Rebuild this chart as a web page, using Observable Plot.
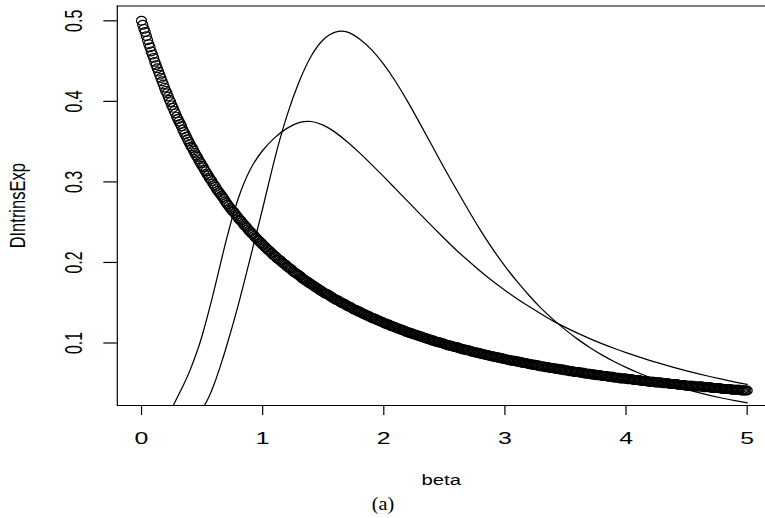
<!DOCTYPE html>
<html><head><meta charset="utf-8">
<script src="https://cdn.jsdelivr.net/npm/d3@7"></script>
<script src="https://cdn.jsdelivr.net/npm/@observablehq/plot@0.6"></script>
<style>
html,body{margin:0;padding:0;background:#fff;overflow:hidden;}
#chart svg{display:block;overflow:hidden;}
#caption{width:765px;height:24px;line-height:24px;text-align:center;font-family:"Liberation Serif","Times New Roman",serif;font-size:18px;color:#000;}
#caption span{display:inline-block;transform:scaleX(1.12);}
</style></head>
<body><div id="chart"></div><div id="caption"><span>(a)</span></div>
<script>
// open circles: DIntrinsExp at beta = 0, 0.01, ..., 5
const betaStep = 0.01;
const dens = [
.500,.495,.490,.486,.481,.476,.471,.467,.462,.458,
.454,.449,.445,.441,.437,.433,.429,.425,.421,.417,
.413,.410,.406,.402,.399,.395,.392,.388,.385,.381,
.378,.375,.372,.369,.365,.362,.359,.356,.353,.350,
.347,.344,.342,.339,.336,.333,.331,.328,.325,.323,
.320,.318,.315,.313,.310,.308,.305,.303,.301,.298,
.296,.294,.291,.289,.287,.285,.283,.281,.279,.276,
.274,.272,.270,.268,.266,.264,.263,.261,.259,.257,
.255,.253,.252,.250,.248,.246,.245,.243,.241,.239,
.238,.236,.235,.233,.231,.230,.228,.227,.225,.224,
.222,.221,.219,.218,.216,.215,.214,.212,.211,.209,
.208,.207,.205,.204,.203,.202,.200,.199,.198,.197,
.195,.194,.193,.192,.191,.189,.188,.187,.186,.185,
.184,.183,.181,.180,.179,.178,.177,.176,.175,.174,
.173,.172,.171,.170,.169,.168,.167,.166,.165,.164,
.163,.162,.161,.161,.160,.159,.158,.157,.156,.155,
.154,.153,.153,.152,.151,.150,.149,.149,.148,.147,
.146,.145,.145,.144,.143,.142,.141,.141,.140,.139,
.139,.138,.137,.136,.136,.135,.134,.134,.133,.132,
.131,.131,.130,.130,.129,.128,.128,.127,.126,.126,
.125,.124,.124,.123,.123,.122,.121,.121,.120,.120,
.119,.118,.118,.117,.117,.116,.116,.115,.114,.114,
.113,.113,.112,.112,.111,.111,.110,.110,.109,.109,
.108,.108,.107,.107,.106,.106,.105,.105,.104,.104,
.103,.103,.102,.102,.101,.101,.101,.100,.100,.099,
.099,.098,.098,.097,.097,.097,.096,.096,.095,.095,
.095,.094,.094,.093,.093,.092,.092,.092,.091,.091,
.091,.090,.090,.089,.089,.089,.088,.088,.088,.087,
.087,.086,.086,.086,.085,.085,.085,.084,.084,.084,
.083,.083,.083,.082,.082,.082,.081,.081,.081,.080,
.080,.080,.079,.079,.079,.078,.078,.078,.078,.077,
.077,.077,.076,.076,.076,.075,.075,.075,.075,.074,
.074,.074,.073,.073,.073,.073,.072,.072,.072,.071,
.071,.071,.071,.070,.070,.070,.070,.069,.069,.069,
.069,.068,.068,.068,.068,.067,.067,.067,.067,.066,
.066,.066,.066,.065,.065,.065,.065,.064,.064,.064,
.064,.064,.063,.063,.063,.063,.062,.062,.062,.062,
.062,.061,.061,.061,.061,.060,.060,.060,.060,.060,
.059,.059,.059,.059,.059,.058,.058,.058,.058,.058,
.057,.057,.057,.057,.057,.056,.056,.056,.056,.056,
.056,.055,.055,.055,.055,.055,.054,.054,.054,.054,
.054,.054,.053,.053,.053,.053,.053,.053,.052,.052,
.052,.052,.052,.052,.051,.051,.051,.051,.051,.051,
.050,.050,.050,.050,.050,.050,.049,.049,.049,.049,
.049,.049,.049,.048,.048,.048,.048,.048,.048,.047,
.047,.047,.047,.047,.047,.047,.046,.046,.046,.046,
.046,.046,.046,.046,.045,.045,.045,.045,.045,.045,
.045,.044,.044,.044,.044,.044,.044,.044,.044,.043,
.043,.043,.043,.043,.043,.043,.043,.042,.042,.042,
.042,.042,.042,.042,.042,.041,.041,.041,.041,.041,
.041
];

// broad curve
const betaA = [0.20,0.25,0.30,0.35,0.40,0.45,0.50,0.60,0.70,0.80,0.90,1.00,1.10,1.20,1.30,1.40,1.50,1.60,1.70,1.80,1.90,2.00,2.10,2.20,2.30,2.40,2.50,2.60,2.70,2.80,2.90,3.00,3.10,3.20,3.30,3.40,3.50,3.60,3.70,3.80,3.90,4.00,4.10,4.20,4.30,4.40,4.50,4.60,4.70,4.80,4.90,5.00];
const valA  = [0.006,0.019,0.034,0.049,0.066,0.086,0.109,0.166,0.228,0.280,0.316,0.339,0.355,0.3665,0.3735,0.375,0.3705,0.3615,0.3495,0.336,0.3215,0.3065,0.291,0.2755,0.260,0.2448,0.2298,0.2152,0.2017,0.1887,0.1767,0.1655,0.155,0.1452,0.136,0.1272,0.1194,0.1122,0.1055,0.0993,0.0935,0.0881,0.083,0.0782,0.0737,0.0695,0.0655,0.0617,0.0581,0.0547,0.0515,0.0485];

// peaked curve
const betaB = [0.45,0.50,0.55,0.60,0.65,0.70,0.80,0.90,1.00,1.10,1.20,1.30,1.40,1.50,1.60,1.70,1.80,1.90,2.00,2.10,2.20,2.30,2.40,2.50,2.60,2.70,2.80,2.90,3.00,3.10,3.20,3.30,3.40,3.50,3.60,3.70,3.80,3.90,4.00,4.10,4.20,4.30,4.40,4.50,4.60,4.70,4.80,4.90,5.00];
const valB  = [0.008,0.018,0.031,0.049,0.071,0.095,0.148,0.207,0.267,0.329,0.382,0.424,0.456,0.4765,0.486,0.486,0.4775,0.464,0.446,0.424,0.399,0.372,0.3445,0.317,0.2905,0.2645,0.2395,0.2165,0.1955,0.1765,0.159,0.143,0.129,0.1163,0.1048,0.0945,0.0853,0.0771,0.0697,0.063,0.057,0.0516,0.0467,0.0423,0.0383,0.0347,0.0314,0.0284,0.0257];

const xTicks = [0,1,2,3,4,5];
const yTicks = [0.1,0.2,0.3,0.4,0.5];
const xTickLabels = ["0","1","2","3","4","5"];
const yTickLabels = ["0.1","0.2","0.3","0.4","0.5"];
const xTitle = "beta";
const yTitle = "DIntrinsExp";

const xDomain = [-0.2, 5.2];
const yDomain = [0.0224, 0.5184];

const circles = dens.map((v, i) => ({beta: i * betaStep, v}));
const lineA = betaA.map((b, i) => ({beta: b, v: valA[i]}));
const lineB = betaB.map((b, i) => ({beta: b, v: valB[i]}));

const ellipse = {
  draw(ctx, size) {
    const r = Math.sqrt(size / Math.PI), rx = r * 1.15, ry = r, k = 0.5522847;
    ctx.moveTo(rx, 0);
    ctx.bezierCurveTo(rx, k * ry, k * rx, ry, 0, ry);
    ctx.bezierCurveTo(-k * rx, ry, -rx, k * ry, -rx, 0);
    ctx.bezierCurveTo(-rx, -k * ry, -k * rx, -ry, 0, -ry);
    ctx.bezierCurveTo(k * rx, -ry, rx, -k * ry, rx, 0);
    ctx.closePath();
  }
};

const W = 765, H = 492;
const font = "'Liberation Sans', Arial, Helvetica, sans-serif";

const chart = Plot.plot({
  width: W, height: H,
  marginLeft: 116.8, marginRight: 0, marginTop: 5.5, marginBottom: H - 405,
  x: {domain: xDomain, range: [116.8, 770.9]},
  y: {domain: yDomain, range: [405, 5.5]},
  style: {background: "white", color: "black", overflow: "hidden"},
  marks: [
    Plot.line(lineA, {x: "beta", y: "v", stroke: "black", strokeWidth: 1.25, curve: "natural", clip: true}),
    Plot.line(lineB, {x: "beta", y: "v", stroke: "black", strokeWidth: 1.25, curve: "natural", clip: true}),
    Plot.dot(circles, {x: "beta", y: "v", r: 4.4, symbol: ellipse, stroke: "black", fill: "none", strokeWidth: 1.15}),
    Plot.ruleX([xDomain[0]], {stroke: "black", strokeWidth: 1.2}),
    Plot.ruleY([yDomain[0], yDomain[1]], {stroke: "black", strokeWidth: 1.2}),
    Plot.axisX({ticks: xTicks, tickSize: 10, fill: "none", stroke: "black", strokeWidth: 1.2}),
    Plot.axisY({ticks: yTicks, tickSize: 13.5, fill: "none", stroke: "black", strokeWidth: 1.2}),
    Plot.text(xTicks, {x: d => d, text: (d, i) => xTickLabels[i], frameAnchor: "bottom", lineAnchor: "top", dy: 26.7, fontSize: 16, fontFamily: font}),
    Plot.text(yTicks, {y: d => d, text: (d, i) => yTickLabels[i], frameAnchor: "left", rotate: -90, textAnchor: "middle", lineAnchor: "middle", dx: -43.5, fontSize: 16, fontFamily: font}),
    Plot.text([xTitle], {text: d => d, frameAnchor: "bottom", lineAnchor: "bottom", dy: 79, fontSize: 15, fontFamily: font}),
    Plot.text([yTitle], {text: d => d, frameAnchor: "left", rotate: -90, textAnchor: "middle", lineAnchor: "bottom", dx: -94.3, fontSize: 16.5, fontFamily: font})
  ]
});

document.getElementById("chart").appendChild(chart);

// the reference picture is stretched horizontally: widen the glyphs the same way
chart.querySelectorAll("text").forEach(t => {
  const s = t.textContent;
  let k = null;
  if (xTickLabels.includes(s) || yTickLabels.includes(s)) k = 1.55;
  else if (s === xTitle) k = 1.35;
  else if (s === yTitle) k = 1.32;
  if (!k) return;
  const r = t.getBoundingClientRect();
  const m = t.parentNode.getScreenCTM().inverse();
  const p = chart.createSVGPoint();
  p.x = r.x + r.width / 2; p.y = r.y + r.height / 2;
  const c = p.matrixTransform(m);
  const old = t.getAttribute("transform") || "";
  t.setAttribute("transform", `translate(${c.x},${c.y}) scale(${k},1) translate(${-c.x},${-c.y}) ${old}`);
});
</script></body></html>
